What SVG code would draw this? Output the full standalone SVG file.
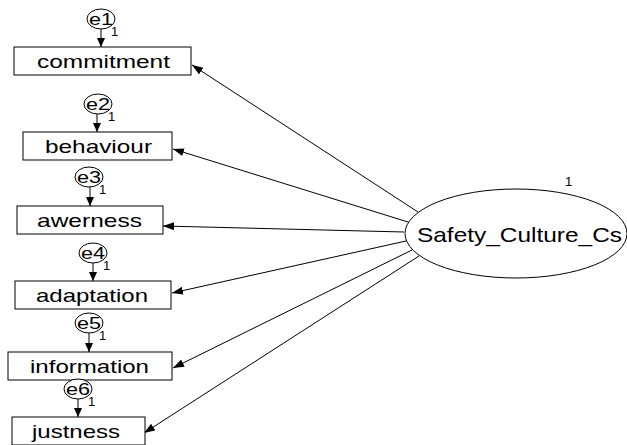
<svg xmlns="http://www.w3.org/2000/svg" width="627" height="445" viewBox="0 0 627 445">
<defs>
<marker id="ah" markerUnits="userSpaceOnUse" markerWidth="12" markerHeight="10" refX="11" refY="4" orient="auto">
<path d="M0,0 L11,4 L0,8 Z" fill="#000"/>
</marker>
<marker id="ahs" markerUnits="userSpaceOnUse" markerWidth="10" markerHeight="10" refX="9" refY="4" orient="auto">
<path d="M0,0 L9,4 L0,8 Z" fill="#000"/>
</marker>
<style>
rect{fill:#fff;stroke:#000;stroke-width:1}
ellipse{fill:#fff;stroke:#000;stroke-width:1}
text{font-family:"Liberation Sans",Arial,sans-serif;fill:#000}
.bt{font-size:19px;text-anchor:middle}
.et{font-size:17px;text-anchor:middle}
.one{font-size:13px;fill:#000}
line{stroke:#000;stroke-width:1}
</style>
</defs>
<g id="connectors">
<line x1="418" y1="212" x2="192" y2="65" marker-end="url(#ah)"/>
<line x1="408" y1="222" x2="173" y2="149" marker-end="url(#ah)"/>
<line x1="404" y1="232" x2="163" y2="226" marker-end="url(#ah)"/>
<line x1="406" y1="241" x2="172" y2="293" marker-end="url(#ah)"/>
<line x1="412" y1="250" x2="173" y2="368" marker-end="url(#ah)"/>
<line x1="419" y1="256" x2="144" y2="433" marker-end="url(#ah)"/>
<line x1="101" y1="29" x2="101" y2="47" marker-end="url(#ahs)"/>
<line x1="97" y1="114" x2="97" y2="132" marker-end="url(#ahs)"/>
<line x1="90" y1="187" x2="90" y2="206" marker-end="url(#ahs)"/>
<line x1="93" y1="263" x2="93" y2="281" marker-end="url(#ahs)"/>
<line x1="89" y1="333" x2="89" y2="352" marker-end="url(#ahs)"/>
<line x1="78" y1="399" x2="78" y2="417" marker-end="url(#ahs)"/>
</g>
<g id="commitment"><rect x="14" y="47" width="177" height="28"/><text class="bt" x="103.5" y="68" textLength="133" lengthAdjust="spacingAndGlyphs">commitment</text></g>
<g id="behaviour"><rect x="23" y="132" width="149" height="28"/><text class="bt" x="98.5" y="153" textLength="107" lengthAdjust="spacingAndGlyphs">behaviour</text></g>
<g id="awerness"><rect x="17" y="206" width="146" height="28"/><text class="bt" x="89.5" y="227" textLength="105" lengthAdjust="spacingAndGlyphs">awerness</text></g>
<g id="adaptation"><rect x="15" y="281" width="156" height="28"/><text class="bt" x="92" y="302" textLength="112" lengthAdjust="spacingAndGlyphs">adaptation</text></g>
<g id="information"><rect x="8" y="352" width="164" height="28"/><text class="bt" x="89.5" y="373" textLength="119" lengthAdjust="spacingAndGlyphs">information</text></g>
<g id="justness"><rect x="12" y="417" width="133" height="28"/><text class="bt" x="76" y="438" textLength="88" lengthAdjust="spacingAndGlyphs">justness</text></g>
<g id="e1"><ellipse cx="101" cy="19" rx="14" ry="10"/><text class="et" x="101" y="25" textLength="24" lengthAdjust="spacingAndGlyphs">e1</text><text class="one" x="111" y="36">1</text></g>
<g id="e2"><ellipse cx="98" cy="104" rx="14" ry="10"/><text class="et" x="98" y="110" textLength="24" lengthAdjust="spacingAndGlyphs">e2</text><text class="one" x="108" y="121">1</text></g>
<g id="e3"><ellipse cx="89" cy="177" rx="14" ry="10"/><text class="et" x="89" y="183" textLength="24" lengthAdjust="spacingAndGlyphs">e3</text><text class="one" x="99" y="194">1</text></g>
<g id="e4"><ellipse cx="93" cy="253" rx="14" ry="10"/><text class="et" x="93" y="259" textLength="24" lengthAdjust="spacingAndGlyphs">e4</text><text class="one" x="103" y="270">1</text></g>
<g id="e5"><ellipse cx="89" cy="323" rx="14" ry="10"/><text class="et" x="89" y="329" textLength="24" lengthAdjust="spacingAndGlyphs">e5</text><text class="one" x="99" y="340">1</text></g>
<g id="e6"><ellipse cx="78" cy="389" rx="14" ry="10"/><text class="et" x="78" y="395" textLength="24" lengthAdjust="spacingAndGlyphs">e6</text><text class="one" x="88" y="406">1</text></g>
<g id="Safety_Culture_Cs"><ellipse cx="516" cy="233.5" rx="111" ry="44.5"/><text x="519.5" y="242" font-size="21" text-anchor="middle" textLength="205" lengthAdjust="spacingAndGlyphs">Safety_Culture_Cs</text><text class="one" x="565" y="186">1</text></g>
</svg>
